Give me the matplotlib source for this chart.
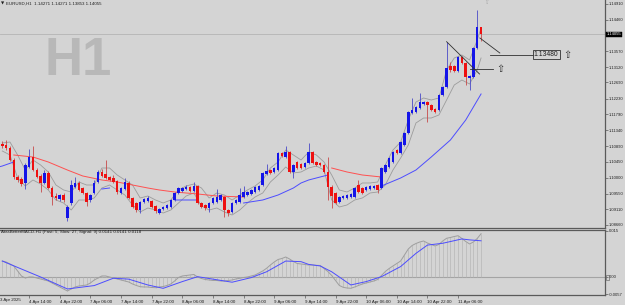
import numpy as np
import matplotlib.pyplot as plt
from matplotlib.patches import Rectangle
from matplotlib.transforms import blended_transform_factory

W, H = 625, 305
BG = '#d4d4d4'
AXIS = '#5a5a5a'
TXT = '#1e1e1e'
FONT = 'Liberation Sans'

# EURUSD H1 candles, bar 0 = 4 Apr 07:00 ... bar 125 = 11 Apr 12:00
opens = [1.10951, 1.10922, 1.10838, 1.10498, 1.10017, 1.09961, 1.09848, 1.10300, 1.10583, 1.10215,
         1.10046, 1.09848, 1.10131, 1.09706, 1.09480, 1.09395, 1.09508, 1.08858, 1.09282, 1.09735,
         1.09848, 1.09706, 1.09565, 1.09367, 1.09565, 1.09876, 1.10159, 1.10102, 1.10017, 1.09989,
         1.09904, 1.09565, 1.09678, 1.09848, 1.09424, 1.09282, 1.09084, 1.09310, 1.09339, 1.09339,
         1.09197, 1.08999, 1.09112, 1.09141, 1.09169, 1.09367, 1.09565, 1.09621, 1.09678, 1.09735,
         1.09621, 1.09763, 1.09282, 1.09226, 1.09141, 1.09282, 1.09310, 1.09367, 1.09452, 1.09084,
         1.09028, 1.09282, 1.09310, 1.09452, 1.09508, 1.09537, 1.09593, 1.09650, 1.09791, 1.10102,
         1.10215, 1.10159, 1.10215, 1.10696, 1.10583, 1.10724, 1.10159, 1.10442, 1.10385, 1.10300,
         1.10413, 1.10724, 1.10442, 1.10413, 1.10357, 1.10159, 1.09735, 1.09565, 1.09310, 1.09424,
         1.09424, 1.09452, 1.09452, 1.09791, 1.09706, 1.09650, 1.09678, 1.09706, 1.09791, 1.09706,
         1.10159, 1.10300, 1.10442, 1.10781, 1.10696, 1.10922, 1.11262, 1.11827, 1.11856, 1.11969,
         1.12082, 1.12138, 1.12054, 1.11940, 1.11912, 1.12336, 1.12563, 1.13157, 1.13157, 1.13015,
         1.13411, 1.13241, 1.12817, 1.12845, 1.13666, 1.14271]
highs = [1.11036, 1.11064, 1.10894, 1.10555, 1.10074, 1.10017, 1.10413, 1.10809, 1.10894, 1.10272,
         1.10102, 1.10215, 1.10187, 1.09763, 1.09565, 1.09537, 1.09565, 1.09226, 1.09933, 1.10017,
         1.09904, 1.09735, 1.09593, 1.09537, 1.09933, 1.10215, 1.10244, 1.10498, 1.10046, 1.10074,
         1.09933, 1.09735, 1.09989, 1.09904, 1.09452, 1.09310, 1.09339, 1.09424, 1.09480, 1.09367,
         1.09226, 1.09141, 1.09197, 1.09254, 1.09395, 1.09593, 1.09735, 1.09735, 1.09791, 1.09763,
         1.09876, 1.09791, 1.09310, 1.09254, 1.09310, 1.09452, 1.09678, 1.09537, 1.09480, 1.09112,
         1.09310, 1.09395, 1.09706, 1.09763, 1.09621, 1.09678, 1.09763, 1.09791, 1.10159, 1.10385,
         1.10244, 1.10300, 1.10724, 1.10724, 1.10894, 1.10753, 1.10385, 1.10470, 1.10413, 1.10442,
         1.10979, 1.10753, 1.10470, 1.10442, 1.10385, 1.10583, 1.09791, 1.09593, 1.09480, 1.09508,
         1.09537, 1.09565, 1.09735, 1.09933, 1.09735, 1.09763, 1.09791, 1.09791, 1.09819, 1.10300,
         1.10385, 1.10583, 1.10753, 1.10809, 1.11036, 1.11290, 1.11884, 1.12252, 1.12025, 1.12393,
         1.12167, 1.12167, 1.12082, 1.11969, 1.12365, 1.12591, 1.13835, 1.13270, 1.13185, 1.13439,
         1.13439, 1.13270, 1.12902, 1.13694, 1.14740, 1.14271]
lows = [1.10838, 1.10781, 1.10470, 1.09961, 1.09876, 1.09763, 1.09678, 1.10272, 1.10187, 1.09989,
        1.09593, 1.09819, 1.09678, 1.09226, 1.09367, 1.09339, 1.09310, 1.08773, 1.09226, 1.09706,
        1.09621, 1.09537, 1.09197, 1.09310, 1.09537, 1.09848, 1.10017, 1.09961, 1.09904, 1.09848,
        1.09537, 1.09537, 1.09650, 1.09395, 1.09141, 1.09028, 1.08999, 1.09282, 1.09310, 1.09141,
        1.08999, 1.08971, 1.09084, 1.09112, 1.09141, 1.09339, 1.09537, 1.09593, 1.09650, 1.09593,
        1.09593, 1.09254, 1.09141, 1.09084, 1.09028, 1.09254, 1.09282, 1.09339, 1.08886, 1.08914,
        1.08999, 1.09254, 1.09282, 1.09424, 1.09480, 1.09508, 1.09565, 1.09621, 1.09763, 1.10074,
        1.10102, 1.10131, 1.10187, 1.10583, 1.10555, 1.10131, 1.09989, 1.10244, 1.10244, 1.10272,
        1.10385, 1.10385, 1.10328, 1.10328, 1.10131, 1.09367, 1.09141, 1.09254, 1.09282, 1.09395,
        1.09395, 1.09424, 1.09424, 1.09565, 1.09537, 1.09621, 1.09650, 1.09678, 1.09565, 1.09678,
        1.10131, 1.10272, 1.10413, 1.10668, 1.10668, 1.10894, 1.11234, 1.11799, 1.11827, 1.11940,
        1.12054, 1.11573, 1.11884, 1.11827, 1.11884, 1.12308, 1.12534, 1.12987, 1.12987, 1.12987,
        1.13213, 1.12619, 1.12478, 1.12817, 1.13637, 1.13853]
closes = [1.10894, 1.10838, 1.10498, 1.10017, 1.09933, 1.09819, 1.10357, 1.10583, 1.10215, 1.10017,
          1.09848, 1.10131, 1.09706, 1.09452, 1.09424, 1.09508, 1.09367, 1.09169, 1.09791, 1.09848,
          1.09650, 1.09565, 1.09310, 1.09508, 1.09848, 1.10159, 1.10046, 1.09989, 1.09933, 1.09876,
          1.09593, 1.09706, 1.09876, 1.09424, 1.09169, 1.09084, 1.09310, 1.09395, 1.09424, 1.09169,
          1.09056, 1.09112, 1.09169, 1.09226, 1.09367, 1.09565, 1.09706, 1.09706, 1.09735, 1.09621,
          1.09763, 1.09282, 1.09169, 1.09141, 1.09282, 1.09424, 1.09452, 1.09508, 1.09084, 1.08999,
          1.09282, 1.09367, 1.09508, 1.09593, 1.09593, 1.09650, 1.09735, 1.09763, 1.10131, 1.10187,
          1.10131, 1.10272, 1.10696, 1.10611, 1.10724, 1.10159, 1.10357, 1.10272, 1.10272, 1.10413,
          1.10724, 1.10413, 1.10357, 1.10357, 1.10159, 1.09735, 1.09480, 1.09282, 1.09452, 1.09480,
          1.09508, 1.09537, 1.09706, 1.09593, 1.09565, 1.09735, 1.09763, 1.09763, 1.09650, 1.10272,
          1.10357, 1.10555, 1.10724, 1.10696, 1.11007, 1.11262, 1.11856, 1.11912, 1.11997, 1.12138,
          1.12138, 1.12054, 1.11912, 1.11856, 1.12336, 1.12563, 1.13100, 1.13043, 1.13015, 1.13411,
          1.13241, 1.12845, 1.12874, 1.13666, 1.14271, 1.14055]

# grey envelope around price, read every second bar
band_idx = list(range(0, 125, 2)) + [125]
band_upper = [1.10979, 1.11007, 1.10640, 1.10215, 1.10498, 1.10357, 1.10159, 1.09791, 1.09650, 1.09593,
              1.09876, 1.09791, 1.09791, 1.10272, 1.10272, 1.10074, 1.09933, 1.09791, 1.09424, 1.09480,
              1.09367, 1.09282, 1.09367, 1.09650, 1.09763, 1.09819, 1.09706, 1.09424, 1.09565, 1.09508,
              1.09367, 1.09508, 1.09650, 1.09763, 1.09933, 1.10272, 1.10442, 1.10781, 1.10640, 1.10498,
              1.10724, 1.10640, 1.10442, 1.10074, 1.09650, 1.09593, 1.09706, 1.09848, 1.09848, 1.09876,
              1.10357, 1.10781, 1.11007, 1.11630, 1.12138, 1.12252, 1.12195, 1.12252, 1.13043, 1.13383,
              1.13468, 1.13326, 1.13892, 1.14231]
band_lower = [1.10753, 1.10640, 1.09989, 1.09763, 1.09933, 1.09819, 1.09650, 1.09367, 1.09282, 1.09084,
              1.09367, 1.09367, 1.09424, 1.09706, 1.09791, 1.09650, 1.09508, 1.09226, 1.09028, 1.09141,
              1.09084, 1.08999, 1.09084, 1.09282, 1.09480, 1.09565, 1.09197, 1.09084, 1.09141, 1.09028,
              1.08943, 1.09084, 1.09282, 1.09452, 1.09565, 1.09876, 1.10074, 1.10300, 1.10131, 1.10159,
              1.10272, 1.10328, 1.10215, 1.09367, 1.09169, 1.09226, 1.09367, 1.09424, 1.09565, 1.09593,
              1.09791, 1.10215, 1.10555, 1.10922, 1.11545, 1.11686, 1.11686, 1.11771, 1.12195, 1.12619,
              1.12760, 1.12647, 1.13043, 1.13383]

# trend MA, drawn red / blue in pieces (nan = gap)
nan = float('nan')
red_ma_idx = [3, 8, 12, 17, 21, 26, 30, 34, 38, 41, 45, 51, 56, 63, nan, 86, 90, 94, 99]
red_ma = [1.10640, 1.10583, 1.10442, 1.10215, 1.10046, 1.09933, 1.09876, 1.09791, 1.09706, 1.09650,
          1.09593, 1.09537, 1.09480, 1.09452, nan, 1.10272, 1.10159, 1.10074, 1.10017]
blue_ma_idx = [-1, 0, 3, nan, 26, 28, nan, 45, 51, nan, 63, 68, 72, 76, 78, 80, 85, nan,
               99, 104, 108, 112, 117, 121, 125]
blue_ma = [1.10300, 1.10328, 1.10442, nan, 1.09678, 1.09706, nan, 1.09367, 1.09367, nan,
           1.09282, 1.09367, 1.09508, 1.09706, 1.09848, 1.09933, 1.10074, nan,
           1.09763, 1.09989, 1.10215, 1.10583, 1.11064, 1.11630, 1.12365]

# MACD (Fast 5, Slow 27, Signal 9)
macd_main = [0.00522, 0.00489, 0.00424, 0.00359, 0.00196, 0.00033, -0.00033, 0.0, 0.0, -0.00033,
             -0.00065, -0.00098, -0.00130, -0.00196, -0.00261, -0.00326, -0.00391, -0.00456, -0.00391, -0.00326,
             -0.00293, -0.00277, -0.00261, -0.00196, -0.00098, -0.00033, 0.00033, 0.00033, 0.0, -0.00033,
             -0.00065, -0.00098, -0.00130, -0.00163, -0.00228, -0.00277, -0.00316, -0.00326, -0.00326, -0.00342,
             -0.00349, -0.00326, -0.00310, -0.00277, -0.00228, -0.00130, -0.00016, 0.00033, 0.00049, 0.00065,
             0.00082, 0.0, -0.00049, -0.00082, -0.00098, -0.00114, -0.00114, -0.00130, -0.00130, -0.00114,
             -0.00098, -0.00065, -0.00042, -0.00016, 0.0, 0.00033, 0.00065, 0.00130, 0.00196, 0.00284,
             0.00391, 0.00489, 0.00571, 0.00603, 0.00652, 0.00587, 0.00505, 0.00440, 0.00424, 0.00408,
             0.00391, 0.00391, 0.00381, 0.00375, 0.00277, 0.00179, 0.00049, -0.00114, -0.00277, -0.00336,
             -0.00359, -0.00368, -0.00326, -0.00277, -0.00228, -0.00196, -0.00163, -0.00130, -0.00082, 0.00049,
             0.00179, 0.00277, 0.00359, 0.00440, 0.00522, 0.00717, 0.00913, 0.01027, 0.01092, 0.01141,
             0.01174, 0.01108, 0.01060, 0.01011, 0.01060, 0.01174, 0.01262, 0.01288, 0.01320, 0.01346,
             0.01255, 0.01157, 0.01076, 0.01141, 0.01255, 0.01410]
signal_idx = [0, 5, 10, 17, 24, 29, 33, 38, 42, 47, 51, 55, 60, 65, 69, 74, 78, 80, 83, 86,
              91, 95, 99, 104, 108, 111, 115, 120, 122, 125]
signal = [0.0052, 0.0026, 0.0000, -0.0039, -0.0028, -0.0004, -0.0007, -0.0026, -0.0037, -0.0015,
          0.0001, -0.0007, -0.0017, -0.0002, 0.0017, 0.0052, 0.0050, 0.0041, 0.0036, 0.0017,
          -0.0026, -0.0015, 0.0001, 0.0034, 0.0077, 0.0104, 0.0110, 0.0124, 0.0121, 0.0118]

price_ticks = [1.14910, 1.14460, 1.13570, 1.13120, 1.12690, 1.12230, 1.11790, 1.11340,
               1.10890, 1.10450, 1.10000, 1.09550, 1.09110, 1.08660]
macd_ticks = [0.015, 0.0, -0.0057]
macd_tick_labels = ['0.015', '0.00', '-0.0057']
time_idx = [7, 15, 23, 31, 39, 47, 55, 63, 71, 79, 87, 95, 103, 111, 119]
time_labels = ['4 Apr 14:00', '4 Apr 22:00', '7 Apr 06:00', '7 Apr 14:00', '7 Apr 22:00',
               '8 Apr 06:00', '8 Apr 14:00', '8 Apr 22:00', '9 Apr 06:00', '9 Apr 14:00',
               '9 Apr 22:00', '10 Apr 06:00', '10 Apr 14:00', '10 Apr 22:00', '11 Apr 06:00']
first_label = '3 Apr 2025'
last_price = 1.14055
label_price = 1.13480
mark_price = 1.13072


def fx(px):
    return px / W


def fy(py):
    return 1 - py / H


def draw_candles(ax, o, h, l, c):
    o, h, l, c = map(np.asarray, (o, h, l, c))
    x = np.arange(len(o))
    up = c >= o
    ax.vlines(x[up], l[up], h[up], color='#4a4ac8', lw=0.6, zorder=3)
    ax.vlines(x[~up], l[~up], h[~up], color='#c84a4a', lw=0.6, zorder=3)
    body = np.maximum(np.abs(c - o), 0.0003)
    bottom = np.minimum(o, c)
    ax.bar(x[up], body[up], bottom=bottom[up], width=0.66, color='#1414e8', lw=0, zorder=4)
    ax.bar(x[~up], body[~up], bottom=bottom[~up], width=0.66, color='#ee1010', lw=0, zorder=4)


fig = plt.figure(figsize=(W / 100, H / 100), dpi=100, facecolor=BG)
ax = fig.add_axes([0, fy(228), fx(605), 228 / H], facecolor=BG)
axm = fig.add_axes([0, fy(295), fx(605), 65 / H], facecolor=BG)

xlim = (-0.60, 157.36)

# ---- price panel
ax.axhline(last_price, color='#b4b4b4', lw=0.6, zorder=1)
ax.plot(band_idx, band_upper, color='#9c9c9c', lw=0.6, zorder=2)
ax.plot(band_idx, band_lower, color='#9c9c9c', lw=0.6, zorder=2)
ax.plot(red_ma_idx, red_ma, color='#ff5050', lw=0.7, zorder=2)
ax.plot(blue_ma_idx, blue_ma, color='#4c4cff', lw=0.7, zorder=2)
draw_candles(ax, opens, highs, lows, closes)

# hand-drawn objects near the last bars
ax.plot([116.0, 124.6], [1.13844, 1.12930], color='#303030', lw=0.6, zorder=5)
ax.plot([122.1, 128.1], [mark_price, mark_price], color='#303030', lw=0.6, zorder=5)
ax.plot([124.7, 129.9], [1.13948, 1.13524], color='#303030', lw=0.6, zorder=5)
ax.plot([127.3, 138.6], [label_price, label_price], color='#303030', lw=0.6, zorder=5)
ax.text(128.9, mark_price, '\u21e7', fontsize=7, color='#303030', ha='left', va='center',
        family='DejaVu Sans', zorder=5)
ax.text(138.8, label_price, f'{label_price:.5f}', fontsize=4.9, color=TXT, ha='left', va='center',
        family=FONT, zorder=5,
        bbox=dict(boxstyle='square,pad=0.15', fc=BG, ec='#303030', lw=0.6))
ax.text(146.6, label_price, '\u21e7', fontsize=7, color='#303030', ha='left', va='center',
        family='DejaVu Sans', zorder=5)

ax.set_xlim(*xlim)
ax.set_ylim(1.08575, 1.15023)
ax.set_xticks([])
ax.yaxis.tick_right()
ax.set_yticks(price_ticks)
ax.set_yticklabels([f'{p:.5f}' for p in price_ticks], family=FONT)
ax.tick_params(axis='y', length=2, width=0.5, color=AXIS, labelsize=3.0, labelcolor=TXT, pad=1.0)
for side in ('top', 'left'):
    ax.spines[side].set_visible(False)
for side in ('right', 'bottom'):
    ax.spines[side].set_color(AXIS)
    ax.spines[side].set_linewidth(0.9)

trans = blended_transform_factory(ax.transAxes, ax.transData)
ax.text(1.003, last_price, f'{last_price:.5f}', transform=trans, fontsize=3.0, color='white',
        family=FONT, ha='left', va='center', clip_on=False,
        bbox=dict(boxstyle='square,pad=0.15', fc='black', ec='black', lw=0.3))

# ---- MACD panel
x = np.arange(len(macd_main))
axm.axhline(0, color='#a4a4a4', lw=0.8, zorder=1)
axm.vlines(x, 0, macd_main, color='#b6b6b6', lw=0.5, zorder=2)
axm.plot(x, macd_main, color='#9e9e9e', lw=0.7, zorder=3)
axm.plot(signal_idx, signal, color='#4c4cff', lw=0.7, zorder=4)

axm.set_xlim(*xlim)
axm.set_ylim(-0.00587, 0.01532)
axm.yaxis.tick_right()
axm.set_yticks(macd_ticks)
axm.set_yticklabels(macd_tick_labels, family=FONT)
axm.tick_params(axis='y', length=2, width=0.5, color=AXIS, labelsize=3.0, labelcolor=TXT, pad=1.0)
axm.set_xticks(time_idx)
axm.set_xticklabels(time_labels, family=FONT)
axm.tick_params(axis='x', length=2.5, width=0.5, color=AXIS, labelsize=3.2, labelcolor=TXT, pad=0.8)
for lbl in axm.get_xticklabels():
    lbl.set_ha('left')
axm.spines['left'].set_visible(False)
for side in ('top', 'right', 'bottom'):
    axm.spines[side].set_color(AXIS)
    axm.spines[side].set_linewidth(0.9)
fig.patches.append(Rectangle((fx(605.8), fy(279.5)), 3.5 / W, 5 / H, transform=fig.transFigure,
                             fill=False, ec='#707070', lw=0.5))

# ---- texts on the figure
fig.text(fx(0.5), fy(299.5), first_label, fontsize=3.2, color=TXT, family=FONT,
         ha='left', va='center')
fig.text(fx(45), fy(75), 'H1', fontsize=38, fontweight='bold', color='#b8b8b8',
         family=FONT, ha='left', va='baseline', zorder=0)
fig.text(fx(0.5), fy(3.5), '\u25bc', fontsize=3, color=TXT, family='DejaVu Sans', va='center')
fig.text(fx(6), fy(3.5), 'EURUSD,H1  1.14271 1.14271 1.13853 1.14055', fontsize=3.2,
         color=TXT, family=FONT, va='center')
fig.text(fx(1), fy(232.5), 'AtasBetterMACD-H1 (Fast: 5, Slow: 27, Signal: 9) 0.0141 0.0141 0.0118',
         fontsize=3.2, color=TXT, family=FONT, va='center')
fig.text(fx(486), fy(2.5), '\u21e7', fontsize=4, color='#a8a8a8', family='DejaVu Sans',
         ha='center', va='center')

fig.savefig('out.png', dpi=100, facecolor=BG)
